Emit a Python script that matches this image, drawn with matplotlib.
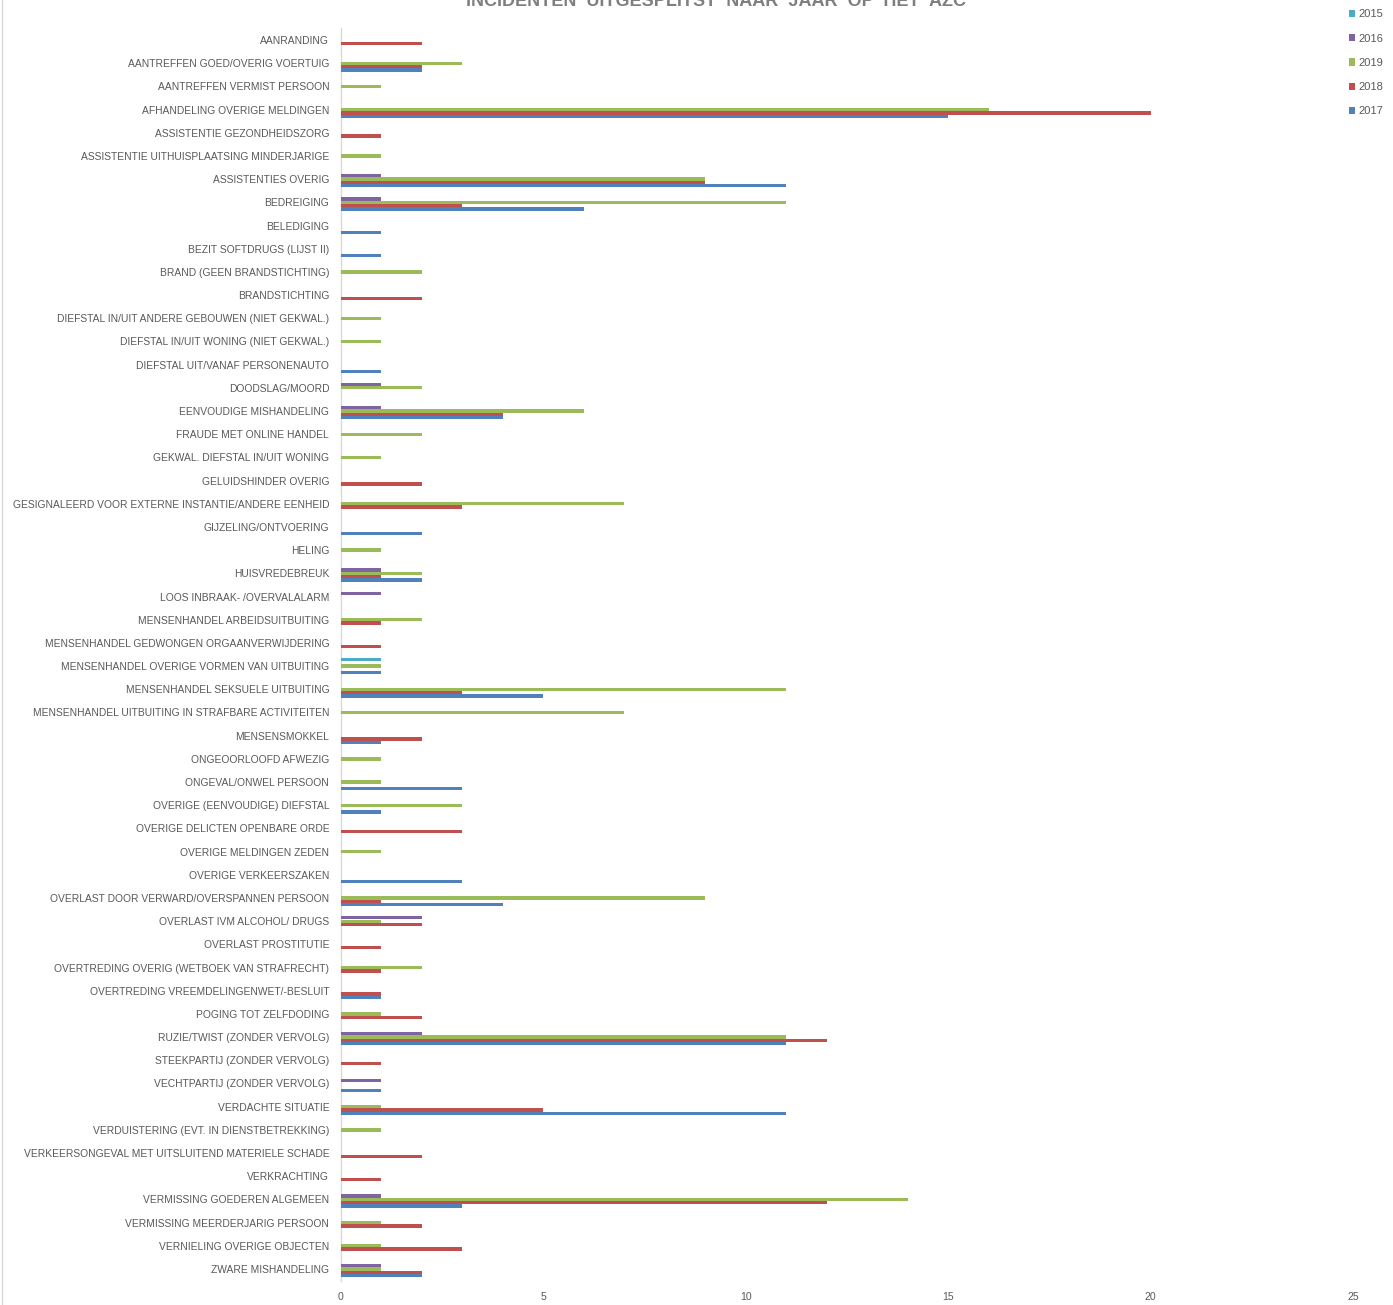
import matplotlib
matplotlib.use("Agg")
import matplotlib.pyplot as plt
from matplotlib.patches import Patch
import numpy as np

categories = [
    "AANRANDING",
    "AANTREFFEN GOED/OVERIG VOERTUIG",
    "AANTREFFEN VERMIST PERSOON",
    "AFHANDELING OVERIGE MELDINGEN",
    "ASSISTENTIE GEZONDHEIDSZORG",
    "ASSISTENTIE UITHUISPLAATSING MINDERJARIGE",
    "ASSISTENTIES OVERIG",
    "BEDREIGING",
    "BELEDIGING",
    "BEZIT SOFTDRUGS (LIJST II)",
    "BRAND (GEEN BRANDSTICHTING)",
    "BRANDSTICHTING",
    "DIEFSTAL IN/UIT ANDERE GEBOUWEN (NIET GEKWAL.)",
    "DIEFSTAL IN/UIT WONING (NIET GEKWAL.)",
    "DIEFSTAL UIT/VANAF PERSONENAUTO",
    "DOODSLAG/MOORD",
    "EENVOUDIGE MISHANDELING",
    "FRAUDE MET ONLINE HANDEL",
    "GEKWAL. DIEFSTAL IN/UIT WONING",
    "GELUIDSHINDER OVERIG",
    "GESIGNALEERD VOOR EXTERNE INSTANTIE/ANDERE EENHEID",
    "GIJZELING/ONTVOERING",
    "HELING",
    "HUISVREDEBREUK",
    "LOOS INBRAAK- /OVERVALALARM",
    "MENSENHANDEL ARBEIDSUITBUITING",
    "MENSENHANDEL GEDWONGEN ORGAANVERWIJDERING",
    "MENSENHANDEL OVERIGE VORMEN VAN UITBUITING",
    "MENSENHANDEL SEKSUELE UITBUITING",
    "MENSENHANDEL UITBUITING IN STRAFBARE ACTIVITEITEN",
    "MENSENSMOKKEL",
    "ONGEOORLOOFD AFWEZIG",
    "ONGEVAL/ONWEL PERSOON",
    "OVERIGE (EENVOUDIGE) DIEFSTAL",
    "OVERIGE DELICTEN OPENBARE ORDE",
    "OVERIGE MELDINGEN ZEDEN",
    "OVERIGE VERKEERSZAKEN",
    "OVERLAST DOOR VERWARD/OVERSPANNEN PERSOON",
    "OVERLAST IVM ALCOHOL/ DRUGS",
    "OVERLAST PROSTITUTIE",
    "OVERTREDING OVERIG (WETBOEK VAN STRAFRECHT)",
    "OVERTREDING VREEMDELINGENWET/-BESLUIT",
    "POGING TOT ZELFDODING",
    "RUZIE/TWIST (ZONDER VERVOLG)",
    "STEEKPARTIJ (ZONDER VERVOLG)",
    "VECHTPARTIJ (ZONDER VERVOLG)",
    "VERDACHTE SITUATIE",
    "VERDUISTERING (EVT. IN DIENSTBETREKKING)",
    "VERKEERSONGEVAL MET UITSLUITEND MATERIELE SCHADE",
    "VERKRACHTING",
    "VERMISSING GOEDEREN ALGEMEEN",
    "VERMISSING MEERDERJARIG PERSOON",
    "VERNIELING OVERIGE OBJECTEN",
    "ZWARE MISHANDELING",
]

y2015 = [0,0,0,0,0,0,0,0,0,0, 0,0,0,0,0,0,0,0,0,0, 0,0,0,0,0,0,0,1,0,0,
         0,0,0,0,0,0,0,0,0,0, 0,0,0,0,0,0,0,0,0,0, 0,0,0,0]
y2016 = [0,0,0,0,0,0,1,1,0,0, 0,0,0,0,0,1,1,0,0,0, 0,0,0,1,1,0,0,0,0,0,
         0,0,0,0,0,0,0,0,2,0, 0,0,0,2,0,1,0,0,0,0, 1,0,0,1]
y2019 = [0,3,1,16,0,1,9,11,0,0, 2,0,1,1,0,2,6,2,1,0, 7,0,1,2,0,2,0,1,11,7,
         0,1,1,3,0,1,0,9,1,0, 2,0,1,11,0,0,1,1,0,0, 14,1,1,1]
y2018 = [2,2,0,20,1,0,9,3,0,0, 0,2,0,0,0,0,4,0,0,2, 3,0,0,1,0,1,1,0,3,0,
         2,0,0,0,3,0,0,1,2,1, 1,1,2,12,1,0,5,0,2,1, 12,2,3,2]
y2017 = [0,2,0,15,0,0,11,6,1,1, 0,0,0,0,1,0,4,0,0,0, 0,2,0,2,0,0,0,1,5,0,
         1,0,3,1,0,0,3,4,0,0, 0,1,0,11,0,1,11,0,0,0, 3,0,0,2]

series = [("2015", y2015, "#4BACC6"),
          ("2016", y2016, "#8064A2"),
          ("2019", y2019, "#9BBB59"),
          ("2018", y2018, "#C0504D"),
          ("2017", y2017, "#4F81BD")]

xticks = [0, 5, 10, 15, 20, 25]
title = "INCIDENTEN  UITGESPLITST  NAAR  JAAR  OP  HET  AZC"

W, H = 1393, 1305
fig = plt.figure(figsize=(W/100, H/100), dpi=100)
ax = fig.add_axes([341/W, 1-1280.6/H, (1353-341)/W, (1280.6-28.4)/H])

lab_font = ['Liberation Sans', 'DejaVu Sans']
slot = 0.1437
bh = 0.143
pos = np.arange(len(categories))
for k, (name, vals, col) in enumerate(series):
    ax.barh(pos + (k-2)*slot, vals, height=bh, color=col, label=name, zorder=3)

ax.set_ylim(len(categories)-0.5, -0.5)
ax.set_xlim(0, 25)
ax.set_yticks(pos)
ax.set_yticklabels(categories, family=lab_font, fontsize=7.4, color="#595959")
ax.set_xticks(xticks)
ax.set_xticklabels([str(t) for t in xticks], family=lab_font, fontsize=7.6, color="#595959")
ax.tick_params(axis='both', length=0)
ax.tick_params(axis='y', pad=8.5)
ax.tick_params(axis='x', pad=8)
for s in ['top', 'right', 'bottom']:
    ax.spines[s].set_visible(False)
ax.spines['left'].set_color("#d9d9d9")
ax.spines['left'].set_linewidth(1)

fig.text(716/W, 1-1/H, title, ha='center', va='center', fontsize=13,
         fontweight='bold', color="#7f7f7f", family=['Liberation Sans', 'DejaVu Sans'])

# chart frame left line
fig.add_artist(plt.Line2D([2/W, 2/W], [0, 1], color="#d9d9d9", lw=1))

handles = [Patch(facecolor=c, edgecolor='none', label=n) for n, v, c in series]
leg = fig.legend(handles=handles, loc='upper right', bbox_to_anchor=(1.0, 1.0),
                 frameon=False, prop={'family': lab_font, 'size': 8.0},
                 handlelength=0.6, handleheight=0.6, handletextpad=0.3,
                 labelspacing=1.28, borderaxespad=0.45)
for t in leg.get_texts():
    t.set_color("#595959")

fig.savefig("out.png", dpi=100)
